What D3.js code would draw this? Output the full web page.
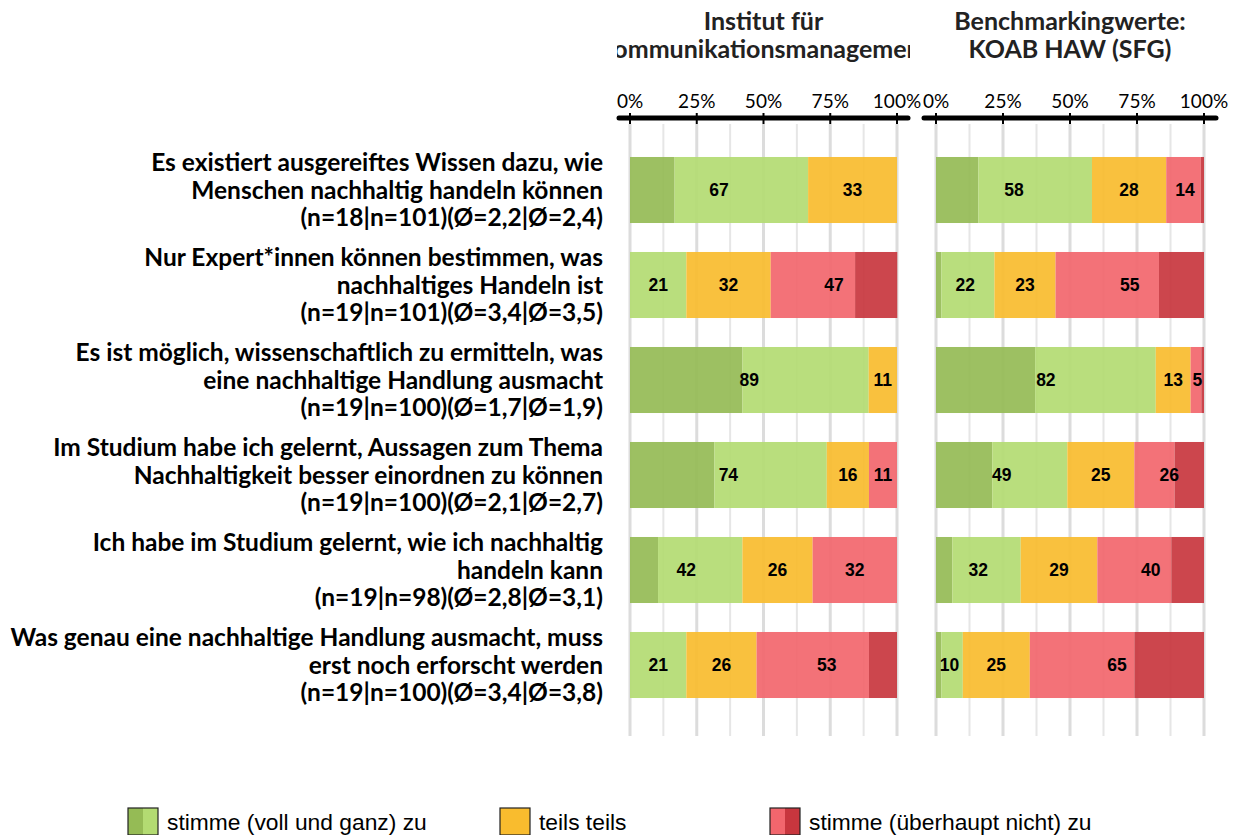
<!DOCTYPE html>
<html>
<head>
<meta charset="utf-8">
<script src="https://cdn.jsdelivr.net/npm/d3@7"></script>
<style>
  body { margin: 0; background: #fff; }
  svg { display: block; }
</style>
</head>
<body>
<div id="chart"></div>
<script>
// statements (two text lines each) and the sample info line
const categories = [
  ["Es existiert ausgereiftes Wissen dazu, wie", "Menschen nachhaltig handeln können"],
  ["Nur Expert*innen können bestimmen, was", "nachhaltiges Handeln ist"],
  ["Es ist möglich, wissenschaftlich zu ermitteln, was", "eine nachhaltige Handlung ausmacht"],
  ["Im Studium habe ich gelernt, Aussagen zum Thema", "Nachhaltigkeit besser einordnen zu können"],
  ["Ich habe im Studium gelernt, wie ich nachhaltig", "handeln kann"],
  ["Was genau eine nachhaltige Handlung ausmacht, muss", "erst noch erforscht werden"]
]
const sampleInfo = [
  "(n=18|n=101)(Ø=2,2|Ø=2,4)",
  "(n=19|n=101)(Ø=3,4|Ø=3,5)",
  "(n=19|n=100)(Ø=1,7|Ø=1,9)",
  "(n=19|n=100)(Ø=2,1|Ø=2,7)",
  "(n=19|n=98)(Ø=2,8|Ø=3,1)",
  "(n=19|n=100)(Ø=3,4|Ø=3,8)"
]
const panelTitles = [
  ["Institut für", "Kommunikationsmanagement"],
  ["Benchmarkingwerte:", "KOAB HAW (SFG)"]
]
const tickLabels = ["0%", "25%", "50%", "75%", "100%"]
const legendLabels = ["stimme (voll und ganz) zu", "teils teils", "stimme (überhaupt nicht) zu"]

// Institut: percent per answer level (voll, eher zu, teils, eher nicht, gar nicht)
const instVoll      = [16.7,  0.0, 42.1, 31.6, 10.5,  0.0]
const instEher      = [50.0, 21.1, 47.3, 42.1, 31.6, 21.1]
const instTeils     = [33.3, 31.6, 10.6, 15.8, 26.3, 26.3]
const instEherNicht = [ 0.0, 31.6,  0.0, 10.5, 31.6, 42.1]
const instGarNicht  = [ 0.0, 15.8,  0.0,  0.0,  0.0, 10.5]

// KOAB benchmark
const koabVoll      = [15.8,  2.0, 37.0, 21.0,  6.1,  2.0]
const koabEher      = [42.4, 19.8, 45.0, 28.0, 25.5,  8.0]
const koabTeils     = [27.7, 22.8, 13.0, 25.0, 28.6, 25.0]
const koabEherNicht = [12.9, 38.6,  4.0, 15.0, 27.6, 39.0]
const koabGarNicht  = [ 1.2, 16.8,  1.0, 11.0, 12.2, 26.0]

const colours = ["#95bb55", "#b3db72", "#f9bc2e", "#f2666d", "#c8363e"]

let width = 1246, height = 835
let svg = d3.select("#chart").append("svg")
  .attr("width", width).attr("height", height)

let labelFont = "Lato, 'Open Sans', sans-serif"

//rows
let y = d3.scaleBand()
  .domain(d3.range(categories.length))
  .range([142.5, 712.5])
  .paddingInner(0.305)
  .paddingOuter(0.1525)

let panels = [
  {range: [630, 897], clip: [617, 910], series: [instVoll, instEher, instTeils, instEherNicht, instGarNicht]},
  {range: [936, 1204], clip: [922, 1218], series: [koabVoll, koabEher, koabTeils, koabEherNicht, koabGarNicht]}
]

panels.forEach(function(p, pi){
  let x = d3.scaleLinear().domain([0, 100]).range(p.range)
  let g = svg.append("g")

  // grid lines
  g.selectAll(".grid")
    .data(d3.range(0, 100.01, 12.5))
    .join("line")
    .attr("x1", d => x(d)).attr("x2", d => x(d))
    .attr("y1", 124).attr("y2", 736)
    .attr("stroke", d => d % 25 === 0 ? "#dcdcdc" : "#e6e6e6")
    .attr("stroke-width", d => d % 25 === 0 ? 3 : 2)

  // stack the five levels
  let rows = categories.map((c, i) => p.series.map(s => s[i]))
  let stack = d3.stack().keys(d3.range(5))
  let layers = stack(rows)

  g.selectAll(".layer")
    .data(layers)
    .join("g")
      .attr("fill", (d, i) => colours[i])
      .attr("fill-opacity", 0.92)
    .selectAll("rect")
    .data(d => d.map((v, i) => ({v: v, i: i})))
    .join("rect")
      .attr("x", d => x(d.v[0]))
      .attr("y", d => y(d.i))
      .attr("width", d => x(d.v[1]) - x(d.v[0]))
      .attr("height", y.bandwidth())

  // group labels: agree / neutral / disagree totals
  let groups = []
  rows.forEach(function(r, i){
    let agree = r[0] + r[1], neutral = r[2], disagree = r[3] + r[4]
    let spans = [[0, agree], [agree, agree + neutral], [agree + neutral, agree + neutral + disagree]]
    spans.forEach(function(s){
      let v = s[1] - s[0]
      if (Math.round(v) > 0) groups.push({i: i, mid: (s[0] + s[1]) / 2, v: Math.round(v)})
    })
  })
  g.selectAll(".val")
    .data(groups)
    .join("text")
    .attr("x", d => x(d.mid))
    .attr("y", d => y(d.i) + y.bandwidth() / 2)
    .attr("dy", "0.36em")
    .attr("text-anchor", "middle")
    .style("font-family", "'Liberation Sans', Arial, sans-serif")
    .style("font-weight", "bold")
    .style("font-size", "17.5px")
    .attr("fill", "#000")
    .text(d => d.v)

  // top axis
  g.append("line")
    .attr("x1", p.clip[0] + 2).attr("x2", p.clip[1] - 2)
    .attr("y1", 118).attr("y2", 118)
    .attr("stroke", "#000").attr("stroke-width", 5)
    .attr("stroke-linecap", "round")
  g.selectAll(".tick")
    .data([0, 25, 50, 75, 100])
    .join("line")
    .attr("x1", d => x(d)).attr("x2", d => x(d))
    .attr("y1", 113).attr("y2", 124)
    .attr("stroke", "#000").attr("stroke-width", 2)
  g.selectAll(".ticklabel")
    .data(tickLabels)
    .join("text")
    .attr("x", (d, i) => x(i * 25))
    .attr("y", 108)
    .attr("text-anchor", "middle")
    .style("font-family", labelFont)
    .style("font-size", "19px")
    .attr("fill", "#000")
    .text(d => d)

  // panel title, clipped to panel width like the original
  let clipId = "clip" + pi
  svg.append("clipPath").attr("id", clipId)
    .append("rect")
    .attr("x", p.clip[0]).attr("y", 0)
    .attr("width", p.clip[1] - p.clip[0]).attr("height", 80)
  svg.append("g").attr("clip-path", `url(#${clipId})`)
    .selectAll("text")
    .data(panelTitles[pi])
    .join("text")
    .attr("x", (p.range[0] + p.range[1]) / 2)
    .attr("y", (d, i) => 30 + i * 28)
    .attr("text-anchor", "middle")
    .style("font-family", labelFont)
    .style("font-weight", "bold")
    .style("font-size", "25px")
    .attr("fill", "#222")
    .text(d => d)
})

// category labels
categories.forEach(function(c, i){
  let lines = c.concat([sampleInfo[i]])
  let cy = y(i) + y.bandwidth() / 2
  svg.append("text")
    .attr("text-anchor", "end")
    .style("font-family", labelFont)
    .style("font-weight", "bold")
    .style("font-size", "24.5px")
    .attr("fill", "#000")
    .selectAll("tspan")
    .data(lines)
    .join("tspan")
    .attr("x", 603)
    .attr("y", (d, j) => cy + (j - 1) * 27.5)
    .attr("dy", "0.35em")
    .text(d => d)
})

// legend
let legendX = [128, 500, 770]
let legendSwatches = [[colours[0], colours[1]], [colours[2], colours[2]], [colours[3], colours[4]]]
let legend = svg.append("g")
legendLabels.forEach(function(l, i){
  let lg = legend.append("g").attr("transform", `translate(${legendX[i]}, 808)`)
  lg.selectAll("rect.half")
    .data(legendSwatches[i])
    .join("rect")
    .attr("x", (d, j) => j * 15).attr("y", 0)
    .attr("width", 15).attr("height", 27)
    .attr("fill", d => d)
  lg.append("rect")
    .attr("width", 30).attr("height", 27)
    .attr("fill", "none").attr("stroke", "#222").attr("stroke-width", 1.2)
  lg.append("text")
    .attr("x", 39).attr("y", 14)
    .attr("dy", "0.36em")
    .style("font-family", "'Liberation Sans', Arial, sans-serif")
    .style("font-size", "22.8px")
    .attr("fill", "#000")
    .text(l)
})
</script>
</body>
</html>
